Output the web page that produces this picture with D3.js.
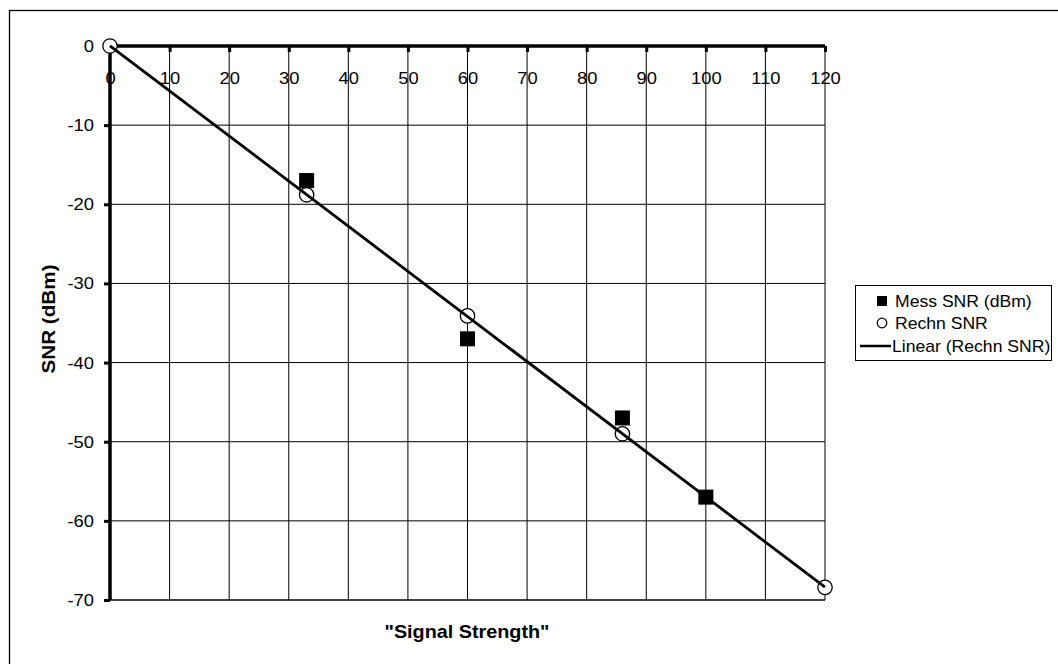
<!DOCTYPE html>
<html><head><meta charset="utf-8">
<script src="https://cdn.jsdelivr.net/npm/d3@7"></script>
<style>
body{margin:0;background:#fff;}
svg{display:block;font-family:Arial,"Liberation Sans",sans-serif;}
</style></head>
<body><svg id="c" width="1058" height="664"></svg>
<script>
const xTicks = [0,10,20,30,40,50,60,70,80,90,100,110,120];
const yTicks = [0,-10,-20,-30,-40,-50,-60,-70];
const messX = [33,60,86,100];
const messY = [-17,-37,-47,-57];
const rechnX = [0,33,60,86,120];
const rechnY = [0,-18.8,-34.1,-49,-68.4];
const seriesNames = ["Mess SNR (dBm)","Rechn SNR","Linear (Rechn SNR)"];
const xTitle = "\"Signal Strength\"";
const yTitle = "SNR (dBm)";

const svg = d3.select("#c");
const L=110, R=825, T=46, B=600;
const x = d3.scaleLinear().domain([0,120]).range([L,R]);
const y = d3.scaleLinear().domain([0,-70]).range([T,B]);
const FF = "Arial,'Liberation Sans',sans-serif";

// outer frame (only top/left visible)
svg.append("rect").attr("x",9.5).attr("y",10.5).attr("width",1100).attr("height",700)
  .attr("fill","none").attr("stroke","#000").attr("stroke-width",1.3);

// gridlines
const g = svg.append("g");
g.selectAll("line.v").data(xTicks.slice(1)).join("line")
  .attr("x1",d=>x(d)).attr("x2",d=>x(d)).attr("y1",T).attr("y2",B)
  .attr("stroke","#000").attr("stroke-width",1);
g.selectAll("line.h").data(yTicks.slice(1)).join("line")
  .attr("x1",L).attr("x2",R).attr("y1",d=>y(d)).attr("y2",d=>y(d))
  .attr("stroke","#000").attr("stroke-width",d=>d===-70?1.6:1);

// axes
const xAxis = d3.axisBottom(x).tickValues(xTicks).tickSize(6).tickPadding(20).tickFormat(d=>String(d));
const xg = svg.append("g").attr("transform",`translate(0,${T})`).call(xAxis);
xg.select(".domain").attr("stroke-width",3.5).attr("d",`M${L},0H${R}`);
xg.selectAll(".tick line").attr("stroke-width",3);
xg.selectAll(".tick text").attr("font-size",17).attr("font-family",FF).attr("fill","#000")
  .attr("transform","scale(1.08,1)");

const yAxis = d3.axisLeft(y).tickValues(yTicks).tickSize(6).tickPadding(10).tickFormat(d=>String(d));
const yg = svg.append("g").attr("transform",`translate(${L},0)`).call(yAxis);
yg.select(".domain").attr("stroke-width",3.5).attr("d",`M0,${T}V${B}`);
yg.selectAll(".tick line").attr("stroke-width",3);
yg.selectAll(".tick text").attr("font-size",17).attr("font-family",FF).attr("fill","#000")
  .attr("x",-16/1.08).attr("transform","scale(1.08,1)");

// squares
svg.selectAll("rect.m").data(messX.map((d,i)=>[d,messY[i]])).join("rect")
  .attr("x",d=>x(d[0])-7.5).attr("y",d=>y(d[1])-7.5).attr("width",15).attr("height",15).attr("fill","#000");

// circles
svg.selectAll("circle.r").data(rechnX.map((d,i)=>[d,rechnY[i]])).join("circle")
  .attr("cx",d=>x(d[0])).attr("cy",d=>y(d[1])).attr("r",7.2)
  .attr("fill","#fff").attr("stroke","#000").attr("stroke-width",1.3);

// linear fit of Rechn SNR
const mx = d3.mean(rechnX), my = d3.mean(rechnY);
const slope = d3.sum(rechnX.map((d,i)=>(d-mx)*(rechnY[i]-my)))/d3.sum(rechnX.map(d=>(d-mx)*(d-mx)));
const icpt = my - slope*mx;
const ext = d3.extent(rechnX);
svg.append("line").attr("x1",x(ext[0])).attr("y1",y(icpt+slope*ext[0]))
  .attr("x2",x(ext[1])).attr("y2",y(icpt+slope*ext[1]))
  .attr("stroke","#000").attr("stroke-width",2.8);

// axis titles
svg.append("text").attr("transform","translate(467,638) scale(1.1,1)").attr("text-anchor","middle")
  .attr("font-size",18).attr("font-weight","bold").text(xTitle);
svg.append("text").attr("transform","translate(55,319) rotate(-90) scale(1.15,1)").attr("text-anchor","middle")
  .attr("font-size",18).attr("font-weight","bold").text(yTitle);

// legend
const lg = svg.append("g");
lg.append("rect").attr("x",855.5).attr("y",285.5).attr("width",196).attr("height",75)
  .attr("fill","#fff").attr("stroke","#000").attr("stroke-width",1);
const rows=[301,323,346];
lg.append("rect").attr("x",877).attr("y",rows[0]-5).attr("width",10).attr("height",10).attr("fill","#000");
lg.append("circle").attr("cx",882).attr("cy",rows[1]).attr("r",4.8).attr("fill","#fff").attr("stroke","#000").attr("stroke-width",1.2);
lg.append("line").attr("x1",860).attr("x2",891).attr("y1",rows[2]).attr("y2",rows[2]).attr("stroke","#000").attr("stroke-width",2.5);
lg.selectAll("text").data(seriesNames).join("text")
  .attr("transform",(d,i)=>`translate(${i===2?892:895},${rows[i]}) scale(1.1,1)`).attr("dy","0.35em")
  .attr("font-size",16).text(d=>d);
</script></body></html>
